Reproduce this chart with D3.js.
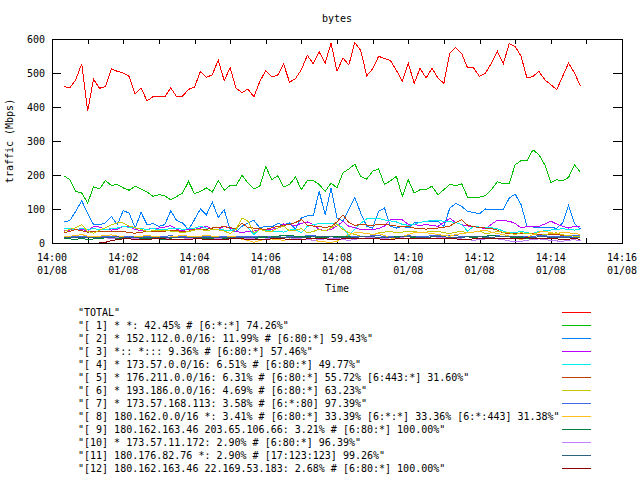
<!DOCTYPE html>
<html><head><meta charset="utf-8">
<script src="https://cdn.jsdelivr.net/npm/d3@7"></script>
<style>
body{margin:0;background:#fff}
svg{display:block}
text{font-family:"DejaVu Sans Mono",monospace;font-size:10px;fill:#000;white-space:pre}
</style></head><body>
<svg id="c" width="640" height="480"></svg>
<script>
// time of each sample, seconds after 14:00:00 (01/08)
const times=[20,30,40,50,60,70,80,90,100,110,120,130,140,150,160,170,180,190,200,210,220,230,240,250,260,270,280,290,300,310,320,330,340,350,360,370,380,390,400,410,420,430,440,450,460,470,480,490,500,510,520,530,540,550,560,570,580,590,600,610,620,630,640,650,660,670,680,690,700,710,720,730,740,750,760,770,780,790,800,810,820,830,840,850,860,870,880,890];

const seriesNames=["\"TOTAL\"",
"\"[ 1] * *: 42.45% # [6:*:*] 74.26%\"",
"\"[ 2] * 152.112.0.0/16: 11.99% # [6:80:*] 59.43%\"",
"\"[ 3] *:: *::: 9.36% # [6:80:*] 57.46%\"",
"\"[ 4] * 173.57.0.0/16: 6.51% # [6:80:*] 49.77%\"",
"\"[ 5] * 176.211.0.0/16: 6.31% # [6:80:*] 55.72% [6:443:*] 31.60%\"",
"\"[ 6] * 193.186.0.0/16: 4.69% # [6:80:*] 63.23%\"",
"\"[ 7] * 173.57.168.113: 3.58% # [6:*:80] 97.39%\"",
"\"[ 8] 180.162.0.0/16 *: 3.41% # [6:80:*] 33.39% [6:*:*] 33.36% [6:*:443] 31.38%\"",
"\"[ 9] 180.162.163.46 203.65.106.66: 3.21% # [6:80:*] 100.00%\"",
"\"[10] * 173.57.11.172: 2.90% # [6:80:*] 96.39%\"",
"\"[11] 180.176.82.76 *: 2.90% # [17:123:123] 99.26%\"",
"\"[12] 180.162.163.46 22.169.53.183: 2.68% # [6:80:*] 100.00%\""];

const seriesColors=["#ff0000","#00c000","#0080ff","#c000ff","#00eeee","#c04000","#c8c800","#4169e1","#ffc020","#008040","#c080ff","#306080","#8b0000"];

const total=[460,457,480,527,388,482,455,460,512,505,500,490,438,456,418,430,430,430,456,430,432,452,458,505,487,495,538,478,515,455,442,453,430,475,507,489,493,527,473,483,510,552,527,562,
529,588,505,544,524,590,566,492,512,549,543,537,508,476,529,470,514,485,514,485,470,559,575,557,515,515,490,500,529,564,527,586,578,549,485,490,505,480,466,451,490,529,500,462];
const s1=[198,186,152,147,118,165,159,184,169,172,162,155,167,159,150,137,142,139,127,137,147,181,145,152,162,150,184,155,169,169,199,176,159,167,225,186,198,165,172,194,157,184,184,172,
152,176,162,206,218,232,196,188,211,218,172,183,196,137,186,147,157,157,167,142,157,172,169,174,135,135,135,139,157,180,174,174,230,242,242,274,260,230,178,186,183,193,230,208];
const s2=[62,66,93,124,88,54,54,59,78,54,95,88,44,90,54,57,49,54,95,66,59,39,69,100,83,120,75,98,39,34,49,59,67,44,49,47,57,54,59,41,74,80,80,152,
83,162,74,64,98,134,88,49,44,93,103,49,44,49,44,59,61,64,64,64,49,103,116,108,93,90,86,100,98,98,98,132,144,113,49,47,47,47,46,43,59,110,57,41];
const s3=[35,38,40,41,34,49,47,40,38,40,49,47,40,36,40,43,44,47,51,40,36,41,40,44,49,41,40,49,44,34,31,34,35,40,40,40,44,56,54,51,58,62,54,40,
36,40,50,64,49,45,40,39,40,42,50,69,69,68,55,54,52,54,52,49,60,73,60,54,50,48,46,42,55,67,66,64,58,44,49,49,49,56,64,56,49,44,49,49];
const s4=[44,42,40,42,40,42,40,40,42,44,49,46,44,42,40,42,40,40,42,44,40,42,44,49,44,40,40,38,37,40,59,45,25,40,38,35,35,32,38,40,30,49,54,57,
57,57,56,45,22,40,58,71,73,72,68,65,62,55,52,55,61,63,67,66,64,63,60,54,35,49,47,47,45,42,35,30,30,35,30,28,34,36,38,40,42,40,38,40];
const s5=[30,34,40,36,32,34,35,34,33,34,34,30,29,32,33,34,33,35,37,36,34,35,40,41,40,44,46,48,45,42,59,45,44,42,40,45,49,52,54,60,69,52,50,48,
46,48,62,83,60,52,54,53,52,54,55,52,50,49,48,44,42,41,42,44,46,50,60,69,52,48,46,44,42,38,30,28,29,28,28,27,26,25,24,25,22,23,22,20];
const s6=[34,40,45,54,34,29,38,45,54,59,59,50,45,40,34,36,38,37,35,34,30,34,38,40,36,40,39,35,28,40,74,64,30,40,35,34,44,50,36,38,42,30,34,40,
35,45,54,40,30,25,20,18,22,30,32,34,30,32,35,34,30,32,34,35,30,28,32,34,30,32,35,28,30,34,32,30,25,30,28,26,22,25,28,30,24,22,20,18];
const s7=[18,18,19,19,18,18,19,20,20,20,19,19,20,20,19,19,19,20,21,20,20,19,19,18,18,18,18,19,19,19,18,18,19,19,20,20,20,21,20,20,20,21,21,20,
20,20,19,19,19,20,20,20,21,21,20,20,20,20,21,20,20,20,21,22,21,21,21,20,20,20,20,20,21,21,20,20,19,19,20,20,21,21,20,20,20,20,21,21];
const s8=[20,20,22,25,20,18,20,22,24,20,18,16,18,20,22,20,18,16,18,20,22,20,18,20,22,20,18,15,20,18,10,8,2,8,10,12,10,8,12,10,10,12,8,5,
3,2,5,15,25,30,30,28,25,28,22,15,12,18,25,30,32,30,28,25,22,20,25,28,30,32,35,38,32,28,25,20,15,10,15,25,32,35,30,28,32,30,28,25];
const s9=[12,12,10,14,10,12,14,15,14,13,12,12,11,13,14,14,12,11,12,10,10,12,14,15,14,12,12,13,14,14,16,15,14,15,16,18,20,22,22,20,20,18,18,17,
17,18,20,20,18,17,18,20,18,17,16,17,18,20,18,17,16,16,18,20,18,16,15,17,18,16,18,20,22,20,18,18,16,15,14,13,12,13,14,15,16,17,16,15];
const s10=[16,15,16,15,15,16,16,15,14,15,16,15,14,15,15,16,15,14,15,16,15,14,14,15,16,15,14,15,16,15,14,13,12,10,12,14,15,16,15,14,12,10,8,10,
12,14,13,10,8,10,14,15,16,15,14,15,16,15,14,13,12,13,14,15,16,15,14,12,10,8,10,12,14,12,10,6,4,5,8,10,12,10,8,6,5,8,10,6];
const s11=[17,17,16,16,17,17,16,16,17,18,17,16,16,17,17,16,16,16,17,17,17,16,16,16,17,17,17,16,16,16,17,17,17,18,18,17,17,16,16,17,17,17,18,18,
18,18,17,17,17,17,18,18,18,17,17,17,17,18,18,18,17,17,18,18,18,17,17,17,18,18,18,17,17,18,19,20,19,18,17,17,18,18,17,17,16,16,17,17];
const s12=[0,0,0,0,0,0,0,2,7,10,12,12,11,10,10,12,13,12,11,10,10,11,12,12,11,10,10,11,12,13,12,11,10,10,11,12,12,12,11,10,11,12,13,12,
12,11,11,12,12,12,13,13,12,12,11,11,12,12,13,13,12,12,12,13,13,12,12,11,11,12,12,13,14,13,12,12,13,14,15,14,13,12,12,12,11,11,14,10];

const xTickValues=[0,120,240,360,480,600,720,840,960];
const xTickTimes=["14:00","14:02","14:04","14:06","14:08","14:10","14:12","14:14","14:16"];
const xTickDates=["01/08","01/08","01/08","01/08","01/08","01/08","01/08","01/08","01/08"];
const yTickValues=[0,100,200,300,400,500,600];

const allSeries=[total,s1,s2,s3,s4,s5,s6,s7,s8,s9,s10,s11,s12];

const svg=d3.select("#c");
const L=52,R=622,T=39,B=243;
const x=d3.scaleLinear().domain([0,960]).range([L,R]);
const y=d3.scaleLinear().domain([0,600]).range([B,T]);

// title
svg.append("text").attr("x",(L+R)/2).attr("y",22).attr("text-anchor","middle").text("bytes");
// y label
svg.append("text").attr("transform",`translate(13,${(T+B)/2}) rotate(-90)`).attr("text-anchor","middle").text("traffic (Mbps)");
// x label
svg.append("text").attr("x",(L+R)/2).attr("y",292).attr("text-anchor","middle").text("Time");

// axes
const minor=d3.range(0,961,60);
const gB=svg.append("g").attr("transform",`translate(0,${B})`)
 .call(d3.axisBottom(x).tickValues(minor).tickSize(-5).tickFormat(""));
const gT=svg.append("g").attr("transform",`translate(0,${T})`)
 .call(d3.axisTop(x).tickValues(minor).tickSize(-5).tickFormat(""));
const gL=svg.append("g").attr("transform",`translate(${L},0)`)
 .call(d3.axisLeft(y).tickValues(yTickValues).tickSize(-9).tickPadding(7).tickFormat(d3.format("d")));
const gR=svg.append("g").attr("transform",`translate(${R},0)`)
 .call(d3.axisRight(y).tickValues(yTickValues).tickSize(-9).tickFormat(""));
[gB,gT,gL,gR].forEach(g=>{g.select(".domain").remove();g.selectAll("line").attr("stroke","#000").attr("shape-rendering","crispEdges");});
gL.selectAll("text").attr("font-family","DejaVu Sans Mono").attr("font-size",10).attr("fill","#000");

// x tick labels (two lines)
const xl=svg.append("g");
xTickValues.forEach((v,i)=>{
  xl.append("text").attr("x",x(v)).attr("y",261).attr("text-anchor","middle").text(xTickTimes[i]);
  xl.append("text").attr("x",x(v)).attr("y",274).attr("text-anchor","middle").text(xTickDates[i]);
});

// series lines
const line=d3.line().x((d,i)=>x(times[i])).y(d=>y(d));
allSeries.forEach((s,k)=>{
  svg.append("path").attr("d",line(s)).attr("fill","none").attr("stroke",seriesColors[k])
    .attr("stroke-width",1).attr("shape-rendering","crispEdges");
});

// frame
svg.append("rect").attr("x",L+0.5).attr("y",T+0.5).attr("width",R-L).attr("height",B-T)
  .attr("fill","none").attr("stroke","#000").attr("shape-rendering","crispEdges");

// legend
const lg=svg.append("g");
seriesNames.forEach((n,k)=>{
  const yy=312+13*k;
  lg.append("text").attr("x",78).attr("y",yy+4).text(n);
  lg.append("line").attr("x1",562).attr("x2",591).attr("y1",yy+0.5).attr("y2",yy+0.5)
    .attr("stroke",seriesColors[k]).attr("shape-rendering","crispEdges");
});
</script></body></html>
